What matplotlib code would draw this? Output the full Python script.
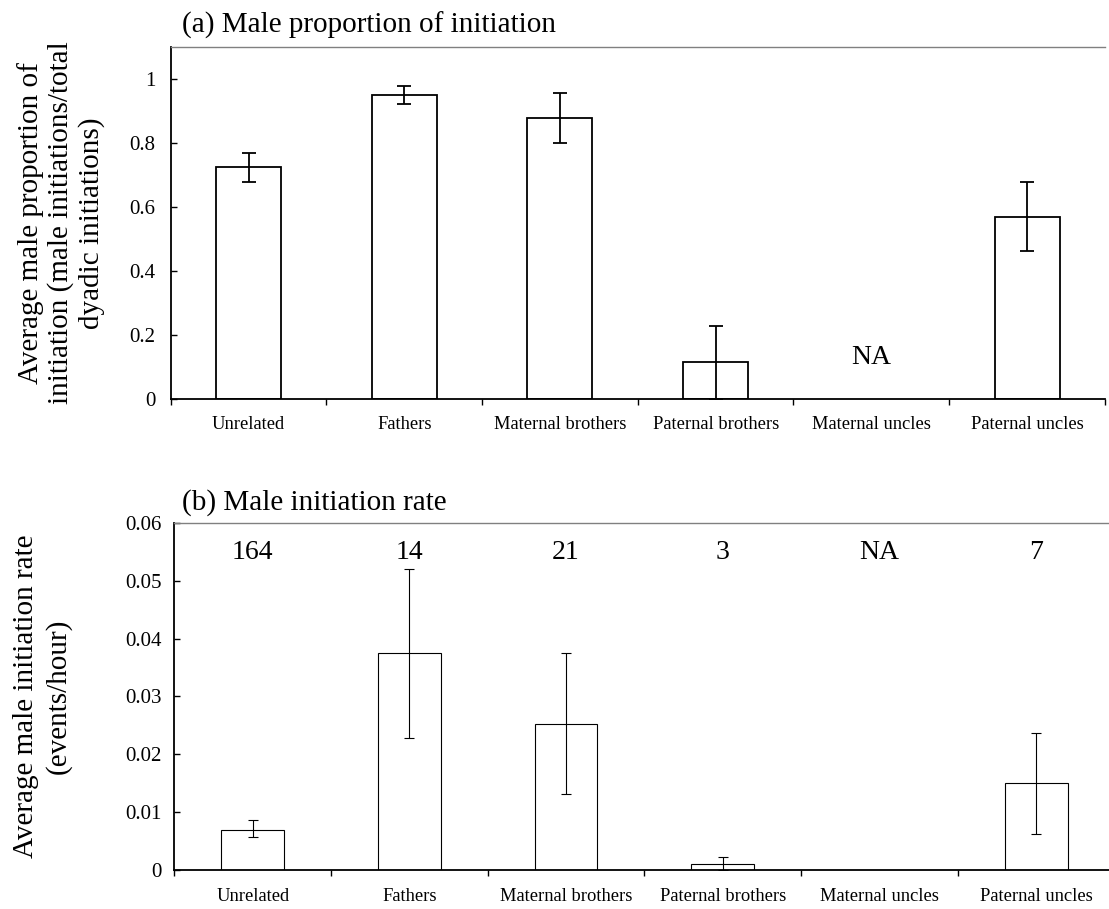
import numpy as np
import matplotlib
matplotlib.use("Agg")
import matplotlib.pyplot as plt

plt.rcParams["font.family"] = ["Liberation Serif", "DejaVu Serif"]

categories = ["Unrelated", "Fathers", "Maternal brothers", "Paternal brothers",
              "Maternal uncles", "Paternal uncles"]

# (a) male proportion of initiations; nan = no dyads of that kind
prop_mean = [0.725, 0.948, 0.878, 0.117, np.nan, 0.569]
prop_err_lo = [0.046, 0.027, 0.079, 0.117, np.nan, 0.106]
prop_err_hi = [0.042, 0.029, 0.077, 0.112, np.nan, 0.109]

# (b) male initiation rate (events/hour)
rate_mean = [0.0070, 0.0375, 0.0253, 0.00114, np.nan, 0.0150]
rate_err_lo = [0.0013, 0.0147, 0.0122, 0.00114, np.nan, 0.0088]
rate_err_hi = [0.0016, 0.0145, 0.0122, 0.0011, np.nan, 0.0087]
n_dyads = ["164", "14", "21", "3", "NA", "7"]


def draw_panel(ax, mean, lo, hi, width, lw, cap, ylim):
    x = np.arange(len(categories))
    mean = np.asarray(mean, dtype=float)
    ok = ~np.isnan(mean)
    ax.bar(x[ok], mean[ok], width=width, color="white", edgecolor="black",
           linewidth=lw, zorder=2)
    ax.errorbar(x[ok], mean[ok],
                yerr=[np.asarray(lo)[ok], np.asarray(hi)[ok]],
                fmt="none", ecolor="black", elinewidth=lw, capsize=cap,
                capthick=lw, zorder=3)
    ax.set_xlim(-0.5, len(categories) - 0.5)
    ax.set_ylim(*ylim)
    # category boundaries carry the tick marks, names sit in between
    ax.set_xticks(np.arange(len(categories) + 1) - 0.5)
    ax.set_xticklabels([])
    ax.set_xticks(x, minor=True)
    ax.set_xticklabels(categories, minor=True, fontsize=13.3)
    ax.tick_params(axis="x", which="major", direction="out", length=4.5,
                   width=1)
    ax.tick_params(axis="x", which="minor", length=0)
    ax.tick_params(axis="y", direction="in", length=4.5, width=1,
                   labelsize=15)
    for side in ("left", "bottom"):
        ax.spines[side].set_linewidth(1.3)
    ax.spines["top"].set_color("#808080")
    ax.spines["top"].set_linewidth(1.0)
    ax.spines["right"].set_visible(False)
    return x


fig = plt.figure(figsize=(11.09, 9.09), dpi=100)
ax_a = fig.add_axes([0.1539, 0.5607, 0.8424, 0.3879])
ax_b = fig.add_axes([0.1572, 0.0426, 0.8478, 0.3824])

xa = draw_panel(ax_a, prop_mean, prop_err_lo, prop_err_hi, 0.417, 1.3, 4.7,
                (0, 1.1))
ax_a.set_yticks([0, 0.2, 0.4, 0.6, 0.8, 1.0])
ax_a.set_yticklabels(["0", "0.2", "0.4", "0.6", "0.8", "1"])
ax_a.tick_params(axis="y", pad=11)
ax_a.tick_params(axis="x", which="minor", pad=12)
ax_a.text(xa[4], 0.131, "NA", ha="center", va="center", fontsize=20)
ax_a.text(0.012, 1.0615, "(a) Male proportion of initiation",
          transform=ax_a.transAxes, ha="left", va="center", fontsize=21)

xb = draw_panel(ax_b, rate_mean, rate_err_lo, rate_err_hi, 0.40, 0.8, 3.6,
                (0, 0.06))
ax_b.set_yticks([0, 0.01, 0.02, 0.03, 0.04, 0.05, 0.06])
ax_b.set_yticklabels(["0", "0.01", "0.02", "0.03", "0.04", "0.05", "0.06"])
ax_b.tick_params(axis="y", pad=9)
ax_b.tick_params(axis="x", which="minor", pad=13)
for xi, n in zip(xb, n_dyads):
    ax_b.text(xi, 0.0548, n, ha="center", va="center", fontsize=20)
ax_b.text(0.008, 1.0567, "(b) Male initiation rate",
          transform=ax_b.transAxes, ha="left", va="center", fontsize=21)

fig.text(0.055, 0.7547,
         "Average male proportion of\ninitiation (male initiations/total\n"
         "dyadic initiations)",
         rotation=90, ha="center", va="center", fontsize=21,
         multialignment="center", linespacing=1.18)
fig.text(0.038, 0.2343, "Average male initiation rate\n(events/hour)",
         rotation=90, ha="center", va="center", fontsize=21,
         multialignment="center", linespacing=1.3)

fig.savefig("out.png", dpi=100)
